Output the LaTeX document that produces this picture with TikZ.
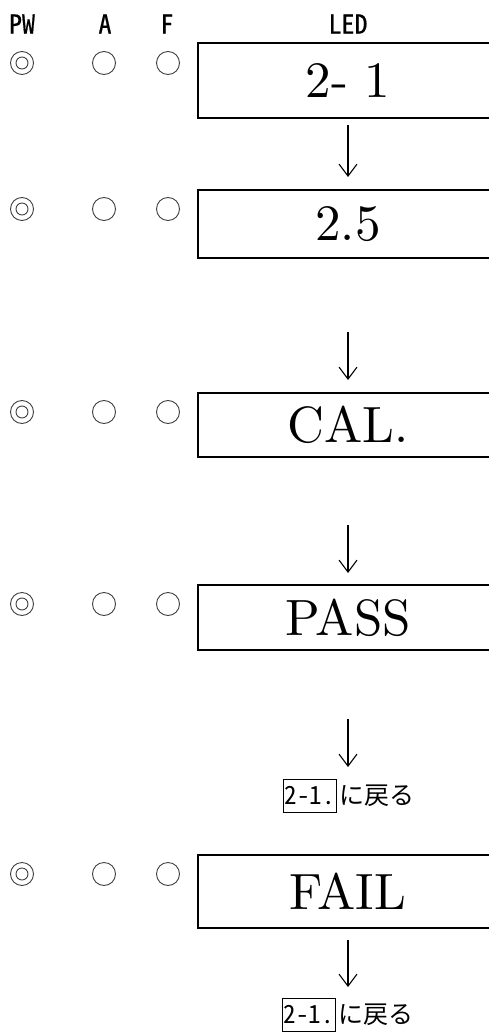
\documentclass[tikz,border=0pt]{standalone}
\usepackage{fontspec}
\usetikzlibrary{arrows.meta}
\newfontfamily\jp{Noto Sans CJK JP}
\newfontfamily\jpw{Noto Sans CJK JP}[RawFeature=+hwid]
\newfontfamily\jph{Noto Sans CJK JP}[RawFeature=+hwid,FakeBold=0.6]
\newfontfamily\lmten{lmroman10-regular.otf}
\begin{document}
\begin{tikzpicture}[x=1pt,y=-1pt,
  lcd/.style={draw,line width=2pt,minimum width=300pt,inner sep=0pt,font=\lmten\fontsize{51}{51}\selectfont},
  lamp/.style={draw=black!75,line width=0.9pt,circle,minimum size=23pt,inner sep=0pt},
  hdr/.style={inner sep=0pt,font=\jph\fontsize{26}{26}\selectfont},
  arr/.style={line width=1.1pt,-{Straight Barb[length=12pt,width=18pt,line width=1.1pt]}},
  refbox/.style={draw,line width=1pt,inner sep=0pt,minimum width=53pt,minimum height=33pt,font=\jpw\fontsize{25}{25}\selectfont},
  reftext/.style={anchor=west,inner sep=0pt,font=\jp\fontsize{25}{25}\selectfont}]
\useasboundingbox (0,0) rectangle (489,1032);
% header
\node[hdr] (hpw) at (22,24) {PW};
\node[hdr] (ha) at (105,24) {A};
\node[hdr] (hf) at (167,24) {F};
\node[hdr] (hled) at (348,24) {LED};
% lamps
\foreach \i/\y in {1/63,2/209,3/412,4/604,5/874}{
  \node[lamp] (pw\i) at (22,\y) {};
  \node[lamp,minimum size=12pt] (pwi\i) at (22,\y) {};
  \node[lamp] (a\i) at (104,\y) {};
  \node[lamp] (f\i) at (168,\y) {};
}
% LED boxes
\node[lcd,minimum height=75pt] (b1) at (348,80.5) {2- 1};
\node[lcd,minimum height=68pt] (b2) at (348,224) {2.5};
\node[lcd,minimum height=64pt] (b3) at (348,425) {CAL.};
\node[lcd,minimum height=65pt] (b4) at (348,617.5) {PASS};
\node[lcd,minimum height=73pt] (b5) at (348,891.5) {FAIL};
% return labels
\node[refbox] (r1) at (309.5,795.5) {2-1.};
\node[reftext] (r1t) at (339,795.5) {に戻る};
\node[refbox] (r2) at (308.5,1014.5) {2-1.};
\node[reftext] (r2t) at (338,1014.5) {に戻る};
% arrows
\coordinate (s1) at (348,125); \coordinate (e1) at (348,177);
\coordinate (s2) at (348,332); \coordinate (e2) at (348,380);
\coordinate (s3) at (348,525); \coordinate (e3) at (348,573);
\coordinate (s4) at (348,719); \coordinate (e4) at (348,767);
\coordinate (s5) at (348,940); \coordinate (e5) at (348,987);
\foreach \i in {1,...,5}{ \draw[arr] (s\i) -- (e\i); }
\end{tikzpicture}
\end{document}
